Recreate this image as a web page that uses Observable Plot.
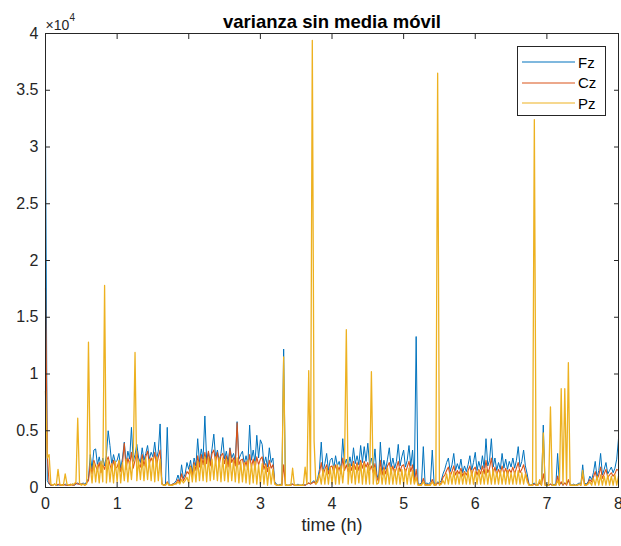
<!DOCTYPE html>
<html><head><meta charset="utf-8">
<script src="https://cdn.jsdelivr.net/npm/d3@7"></script>
<script src="https://cdn.jsdelivr.net/npm/@observablehq/plot@0.6"></script>
<style>
body{margin:0;background:#fff;font-family:"Liberation Sans",Arial,sans-serif;}
#wrap{position:relative;width:621px;height:546px;}
#legend{position:absolute;left:517px;top:46px;width:87px;height:68px;border:1px solid #262626;background:#fff;color:#000;font-size:15px;}
.row{position:absolute;left:4px;height:20px;display:flex;align-items:center;}
.row span{margin-left:3px;}
</style></head><body><div id="wrap"></div>
<script>
const series = ["Fz", "Cz", "Pz"];
const colors = ["#0072BD", "#D95319", "#EDB120"];
const titleText = "varianza sin media móvil";
const xLabel = "time (h)";
const xTicks = [0, 1, 2, 3, 4, 5, 6, 7, 8];
const yTicks = [0, 5000, 10000, 15000, 20000, 25000, 30000, 35000, 40000];
const dt = 0.025; // hours between samples
// variance values, in thousands, one every 0.025 h (rows of 20 samples = 0.5 h)
const fz = [
32,0.6,0.3,0.2,0.2,0.3,0.2,0.2,0.3,0.2,0.2,0.3,0.2,0.2,0.2,0.3,0.2,0.3,0.4,0.3,
0.3,0.4,0.3,0.5,0.8,2.9,1.6,3.3,3.4,2.0,2.7,1.8,2.6,1.9,2.8,5.0,3.7,2.0,2.9,2.2,
2.4,3.0,1.7,2.6,4.0,2.1,3.2,2.5,5.3,2.3,2.9,3.8,2.6,2.2,3.5,2.4,3.0,3.7,2.5,3.1,
2.7,4.0,2.5,3.2,5.6,0.4,0.2,0.3,5.3,0.3,0.2,0.3,0.4,0.6,1.1,0.5,2.0,0.8,1.2,2.2,
1.6,2.4,1.3,2.6,1.9,4.3,2.2,3.4,2.5,6.3,2.4,3.1,2.2,3.4,4.7,2.6,3.3,2.4,3.0,4.4,
2.5,3.2,2.2,3.5,2.6,3.0,2.3,5.8,2.5,2.9,3.2,2.1,2.8,2.0,5.5,2.4,3.3,2.2,4.6,2.6,
4.2,3.8,2.0,2.7,1.8,3.5,2.2,2.6,0.5,0.3,0.2,0.3,0.2,12.2,0.3,0.2,0.2,0.3,0.3,0.2,
0.2,0.3,0.2,0.2,0.3,0.2,0.3,0.4,0.3,0.5,0.6,0.4,0.8,1.6,4.0,1.4,2.1,3.0,1.5,2.4,
2.6,1.7,2.8,1.9,2.3,1.6,4.3,2.0,2.5,1.8,2.7,1.9,3.5,2.1,2.8,2.0,3.7,2.2,3.6,2.3,
3.9,2.0,2.6,1.7,3.4,1.2,0.6,4.0,1.5,2.4,1.6,2.5,3.5,1.8,2.6,1.7,2.3,3.8,1.9,2.7,
3.3,1.8,2.4,3.7,1.9,3.3,0.6,13.3,0.4,0.3,0.4,3.6,0.3,0.4,0.3,0.5,3.3,0.4,0.3,0.5,
0.4,0.6,1.2,1.6,2.2,2.6,1.4,2.0,3.0,1.5,2.1,1.6,2.5,1.3,1.9,1.4,2.0,2.8,1.5,2.2,
3.1,1.5,2.3,1.6,2.8,1.7,4.3,1.9,2.4,4.3,1.8,2.6,1.5,2.2,1.6,3.0,1.7,2.5,1.6,2.3,
1.8,2.6,1.7,2.4,3.6,1.8,2.3,3.3,1.9,1.2,0.3,0.2,0.3,0.4,0.2,0.3,0.5,0.3,5.5,0.3,
0.3,0.2,0.3,0.2,0.3,0.2,3.0,0.3,0.4,0.2,0.4,0.3,0.6,0.3,0.2,0.3,0.2,0.3,0.4,0.3,
2.0,0.4,0.3,0.5,1.0,0.7,1.3,2.3,0.9,1.5,3.0,1.1,1.6,2.2,1.2,1.5,1.8,1.3,1.7,2.5,
4.3];
const cz = [
17.6,2.8,0.4,0.2,0.2,0.3,0.2,0.3,0.2,0.2,0.3,0.2,0.2,0.2,0.3,0.2,0.2,0.4,0.3,0.3,
0.3,0.3,0.2,0.4,0.6,2.1,1.2,2.4,1.9,1.5,2.2,1.3,2.0,1.6,2.3,2.7,2.0,1.5,2.4,1.7,
1.8,2.3,1.4,2.1,3.9,1.6,2.6,2.0,3.1,1.7,2.4,3.2,2.0,1.8,2.9,1.9,2.7,3.2,2.1,2.6,
2.2,3.1,1.9,2.7,3.3,0.3,0.2,0.2,0.5,0.2,0.2,0.3,0.3,0.4,0.7,0.4,1.2,0.6,0.9,1.4,
1.2,1.9,1.0,2.2,1.5,2.8,1.8,2.9,2.0,3.1,2.1,3.2,1.9,3.0,3.3,2.2,3.1,2.0,2.8,3.0,
2.1,2.8,1.8,3.4,2.2,2.6,1.9,5.7,2.0,2.4,2.5,1.7,2.3,1.6,2.9,1.8,2.5,1.6,2.7,2.0,
2.5,2.7,1.6,2.1,1.4,2.4,1.7,2.0,0.4,0.2,0.2,0.2,0.2,2.0,0.2,0.2,0.2,0.2,0.3,0.2,
0.2,0.2,0.2,0.2,0.2,0.2,0.3,0.4,0.3,0.4,0.5,0.3,0.6,1.2,2.2,1.1,1.6,2.0,1.2,1.8,
1.9,1.3,2.0,1.4,1.8,1.2,2.6,1.5,2.0,1.4,2.1,1.5,2.3,1.6,2.2,1.5,2.4,1.7,2.3,1.8,
2.2,1.5,1.9,1.3,2.1,0.9,0.5,2.4,1.1,1.8,1.2,1.9,2.2,1.3,1.9,1.2,1.7,2.3,1.4,1.9,
2.0,1.3,1.8,2.3,1.4,2.0,0.4,1.6,0.3,0.2,0.3,0.8,0.2,0.3,0.2,0.3,0.7,0.3,0.2,0.4,
0.3,0.4,0.9,1.1,1.5,1.8,1.0,1.4,1.9,1.1,1.5,1.2,1.7,1.0,1.4,1.1,1.5,1.9,1.1,1.6,
1.8,1.1,1.6,1.2,1.9,1.2,2.4,1.3,1.7,2.6,1.2,1.8,1.1,1.6,1.2,1.9,1.2,1.7,1.1,1.6,
1.3,1.8,1.2,1.7,2.2,1.3,1.6,2.0,1.3,0.8,0.2,0.2,0.2,0.3,0.2,0.2,0.4,0.2,1.2,0.2,
0.2,0.2,0.3,0.2,0.2,0.2,1.0,0.2,0.5,0.2,0.4,0.2,0.7,0.2,0.2,0.2,0.2,0.2,0.3,0.2,
1.1,0.3,0.2,0.4,0.7,0.5,0.9,1.4,0.7,1.1,1.8,0.8,1.2,1.6,0.9,1.1,1.3,1.0,1.2,1.6,
1.5];
const pz = [
8.5,2.6,2.9,0.3,0.2,0.3,0.2,1.6,0.3,0.2,0.2,1.2,0.3,0.2,0.2,0.3,0.3,0.5,6.1,0.4,
0.2,0.3,0.2,0.3,12.8,1.9,0.4,2.2,0.5,2.0,0.4,2.3,0.5,17.8,0.4,2.4,0.5,2.1,0.4,2.3,
0.5,2.4,0.4,2.2,0.6,2.5,0.5,2.3,0.7,2.6,11.9,0.6,2.4,0.7,2.5,0.6,2.6,0.7,2.5,0.6,
2.6,0.5,2.7,0.6,2.5,0.3,0.2,0.2,0.4,0.2,0.2,0.2,0.3,0.3,0.5,0.3,0.7,0.4,0.6,0.9,
0.4,1.8,0.5,2.0,0.5,2.3,0.6,2.5,0.6,2.7,0.5,2.6,0.6,2.5,0.7,2.7,0.6,2.6,0.5,2.6,
0.6,2.5,0.5,2.7,0.6,2.4,0.5,2.6,0.4,2.3,0.5,2.2,0.4,2.4,0.3,2.1,0.4,2.3,0.3,2.0,
0.3,2.1,0.3,1.9,0.2,1.8,0.3,1.6,0.3,0.2,0.2,0.2,0.2,11.5,0.2,0.2,0.2,0.2,1.7,0.2,
0.2,0.2,0.2,0.2,0.2,1.8,0.3,10.3,0.4,39.4,4.1,0.3,0.5,1.2,0.3,1.6,0.3,1.7,0.3,1.8,
0.3,1.9,0.3,2.0,0.3,1.9,0.4,2.1,13.9,0.3,2.0,0.4,2.1,0.3,2.0,0.4,2.2,0.3,2.1,0.3,
1.9,0.3,10.2,0.3,1.8,0.3,0.4,1.7,0.3,1.6,0.3,1.7,0.3,1.8,0.3,1.6,0.3,1.7,0.3,1.6,
0.3,1.6,0.3,1.7,0.3,1.5,0.3,0.9,0.2,0.2,0.2,0.5,0.2,0.2,0.2,0.2,0.5,0.2,0.2,36.5,
0.2,0.3,0.6,0.3,1.2,0.3,1.3,0.3,1.4,0.3,1.3,0.3,1.4,0.3,1.3,0.3,1.4,0.3,1.5,0.3,
1.4,0.3,1.5,0.3,1.4,0.3,1.6,0.3,1.5,0.3,1.6,0.3,1.4,0.3,1.5,0.3,1.4,0.3,1.5,0.3,
1.3,0.3,1.4,0.3,1.5,0.3,1.3,0.3,1.2,0.5,0.2,0.2,0.2,32.4,0.2,0.2,0.7,0.2,4.8,0.2,
0.2,0.2,7.1,0.2,0.2,0.2,0.6,0.2,8.7,0.3,8.7,0.3,11.0,0.2,0.2,0.2,0.2,0.2,0.3,0.2,
1.5,0.2,0.2,0.3,0.5,0.2,0.8,0.2,1.0,0.2,1.1,0.2,1.0,0.2,1.1,0.2,1.0,0.2,1.1,0.2,
1.0];

const values = [fz, cz, pz];
const widths = [1, 1.1, 1.3];
const toRows = arr => arr.map((v, i) => ({t: i * dt, v: v * 1000}));
const fmt = d => d3.format("~g")(d / 1e4);
const ink = "#262626";

const chart = Plot.plot({
  width: 621, height: 546,
  marginLeft: 45, marginRight: 3, marginTop: 33, marginBottom: 59,
  style: {fontFamily: "'Liberation Sans', Arial, sans-serif", fontSize: "16px", color: ink, background: "#fff", overflow: "visible"},
  x: {domain: [0, 8]},
  y: {domain: [0, 40000]},
  marks: [
    ...values.map((arr, k) => Plot.lineY(toRows(arr), {x: "t", y: "v", stroke: colors[k], strokeWidth: widths[k]})),
    Plot.frame({stroke: ink}),
    Plot.axisX(xTicks, {anchor: "bottom", tickSize: -5, tickPadding: 15, stroke: ink, fill: ink, label: null}),
    Plot.axisX(xTicks, {anchor: "top", tickSize: -5, tickFormat: () => "", stroke: ink, label: null}),
    Plot.axisY(yTicks, {anchor: "left", tickSize: -5, tickPadding: 12, tickFormat: fmt, stroke: ink, fill: ink, label: null}),
    Plot.axisY(yTicks, {anchor: "right", tickSize: -5, tickFormat: () => "", stroke: ink, label: null}),
    Plot.text([xLabel], {frameAnchor: "bottom", dy: 43, fontSize: 18, fill: ink}),
    Plot.text([titleText], {frameAnchor: "top", dy: -19, fontSize: 18.5, fontWeight: "bold", fill: "#000"}),
    Plot.text(["×10"], {frameAnchor: "top-left", dx: 0, dy: -13, textAnchor: "start", fontSize: 14, fill: ink}),
    Plot.text(["4"], {frameAnchor: "top-left", dx: 24, dy: -20, textAnchor: "start", fontSize: 10, fill: ink})
  ]
});
const wrap = document.getElementById("wrap");
wrap.appendChild(chart);
const legend = d3.select(wrap).append("div").attr("id", "legend");
series.forEach((s, k) => {
  const row = legend.append("div").attr("class", "row").style("top", (5 + k * 20.5) + "px");
  const svg = row.append("svg").attr("width", 53).attr("height", 4);
  svg.append("line").attr("x1", 0).attr("x2", 53).attr("y1", 2).attr("y2", 2).attr("stroke", colors[k]).attr("stroke-width", 1.2);
  row.append("span").text(s);
});
</script></body></html>
